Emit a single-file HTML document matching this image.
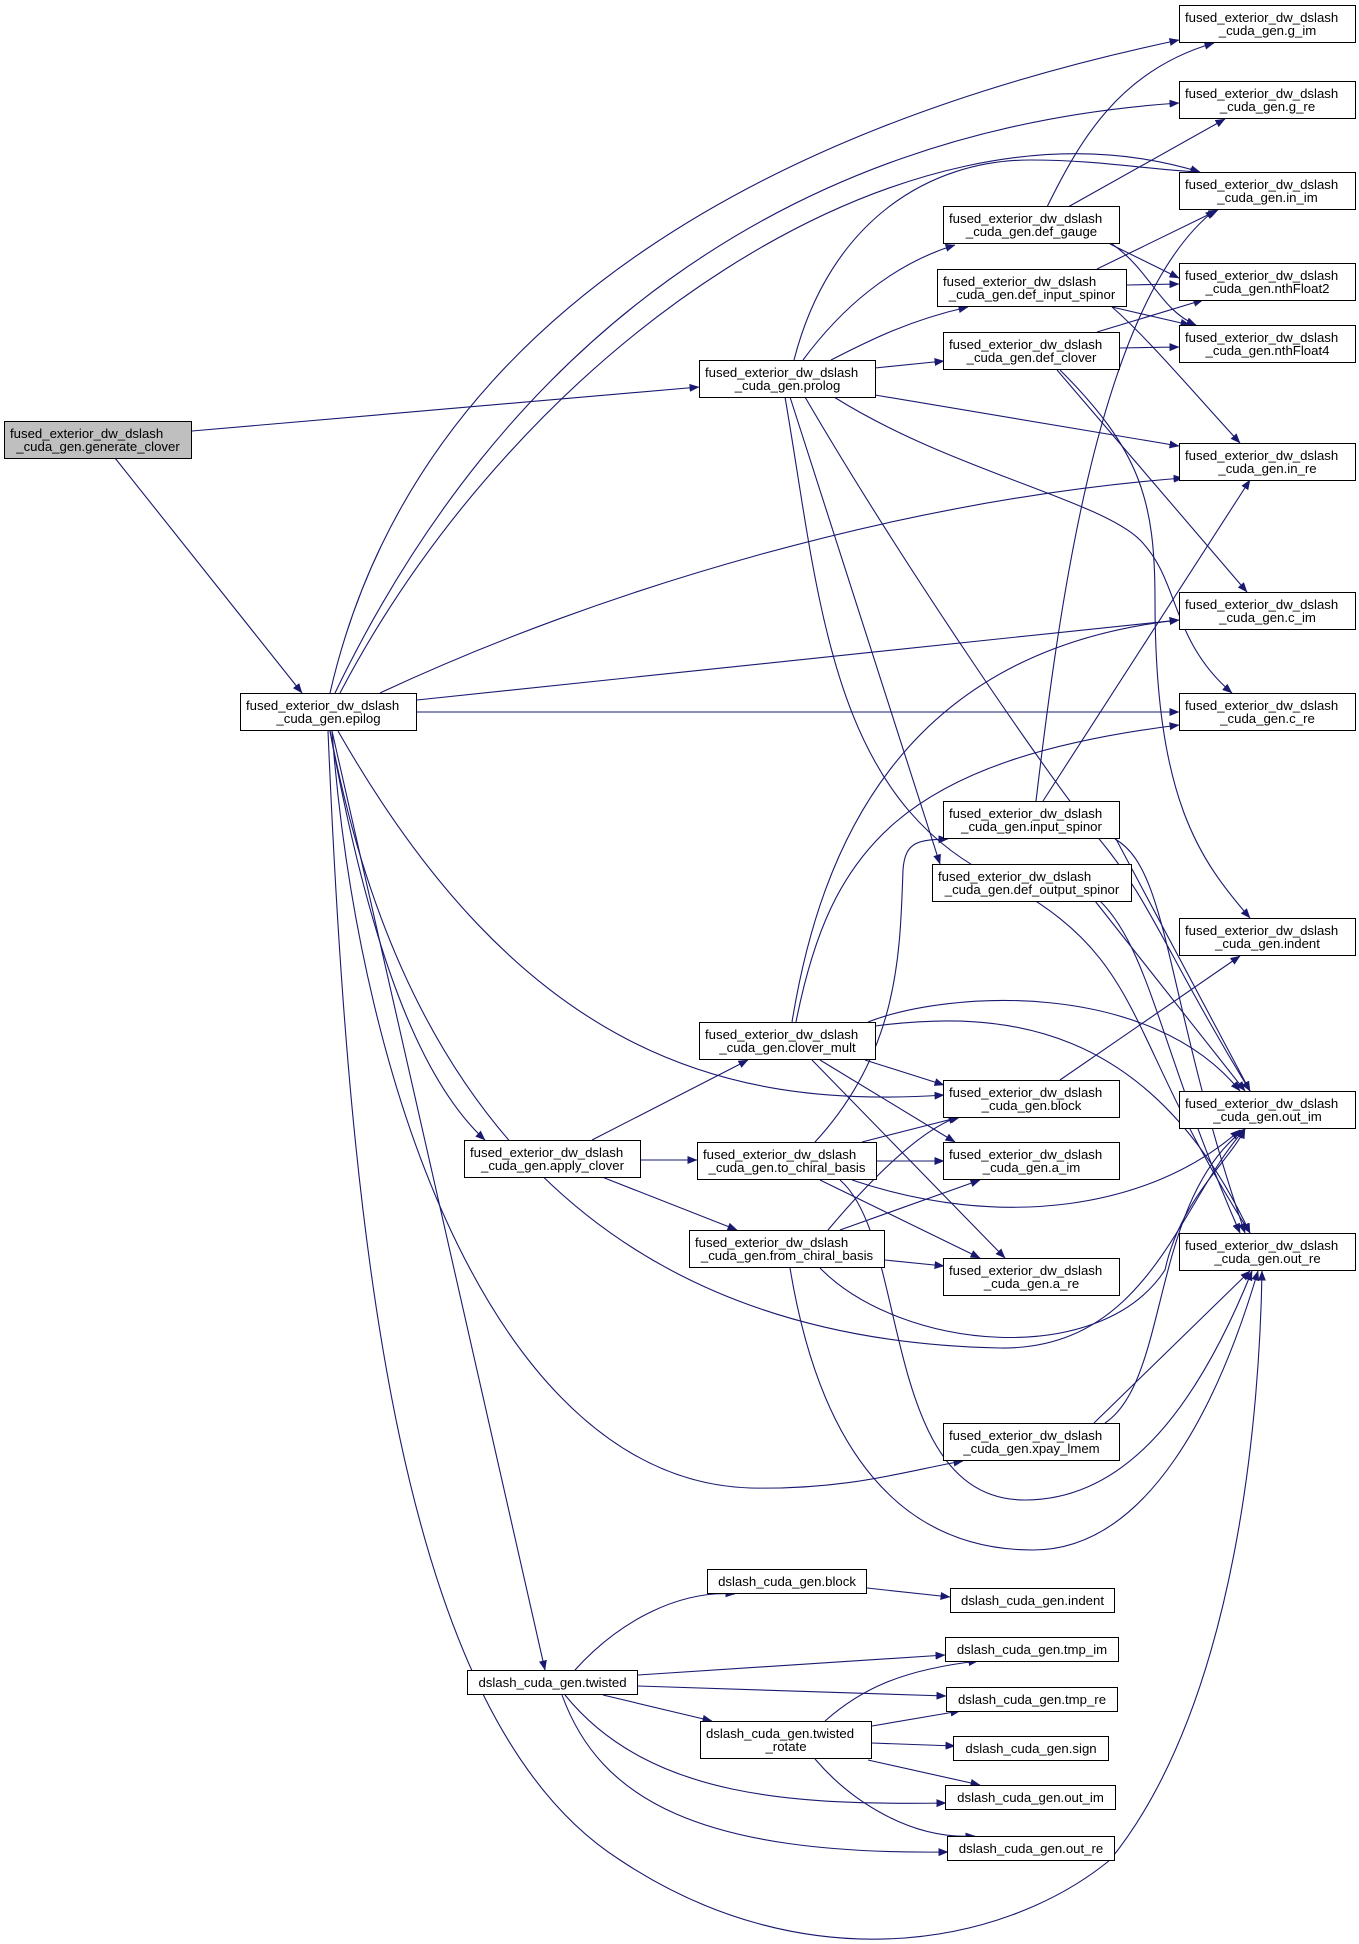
<!DOCTYPE html>
<html><head><meta charset="utf-8"><style>
body{margin:0;background:#fff;width:1359px;height:1944px;position:relative;overflow:hidden;font-family:"Liberation Sans",Helvetica,Arial,sans-serif;font-size:13.2px;}
.b{position:absolute;border:1px solid #000;background:#fff;box-sizing:border-box;line-height:13.4px;padding-top:5px;padding-left:5px;padding-right:5px;white-space:nowrap;}
.b .l1{text-align:left}.b .l2{text-align:center}
.s{padding-top:5px;text-align:center}
svg{position:absolute;left:0;top:0}
</style></head><body>
<svg width="1359" height="1944" viewBox="0 0 1359 1944">
<defs><marker id="a" markerWidth="10" markerHeight="8" refX="9.5" refY="4" orient="auto" markerUnits="userSpaceOnUse"><path d="M0,0 L10,4 L0,8 z" fill="#191970"/></marker></defs>
<g fill="none" stroke="#191970" stroke-width="1.1" marker-end="url(#a)">
<path d="M192,431 L699,387"/>
<path d="M115,458 L302,693"/>
<path d="M803,360 C840,310 890,265 955,245"/>
<path d="M831,360 C870,340 910,320 968,307"/>
<path d="M875,368 L944,361"/>
<path d="M794,360 C830,220 930,160 1030,160 C1100,160 1150,170 1200,172"/>
<path d="M875,395 L1179,446"/>
<path d="M834,397 C950,470 1100,500 1140,540 C1180,580 1170,640 1232,693"/>
<path d="M790,397 L940,864"/>
<path d="M785,397 C820,600 830,800 1000,880 C1150,960 1120,1030 1250,1233"/>
<path d="M805,397 C900,560 1050,780 1100,840 C1150,900 1170,960 1250,1091"/>
<path d="M330,693 C420,300 800,120 1179,40"/>
<path d="M335,693 C500,350 780,130 1179,103"/>
<path d="M340,693 C520,350 900,80 1200,172"/>
<path d="M380,693 C600,590 900,500 1183,478"/>
<path d="M417,700 L1179,620"/>
<path d="M417,712 L1179,712"/>
<path d="M338,731 C520,1050 720,1110 944,1095"/>
<path d="M330,731 C370,950 420,1080 485,1140"/>
<path d="M330,731 C400,1100 600,1340 1000,1348 C1150,1350 1180,1200 1245,1129"/>
<path d="M332,731 C360,1100 500,1480 750,1488 C850,1490 910,1470 963,1461"/>
<path d="M332,731 L545,1670"/>
<path d="M328,731 C350,1250 400,1720 620,1860 C800,1980 1000,1950 1110,1860 C1240,1700 1260,1400 1262,1271"/>
<path d="M1047,207 C1080,140 1120,70 1214,43"/>
<path d="M1068,207 L1225,119"/>
<path d="M1110,244 L1179,278"/>
<path d="M1112,244 C1150,270 1160,310 1196,325"/>
<path d="M1097,269 L1218,210"/>
<path d="M1127,285 L1179,284"/>
<path d="M1112,307 L1190,325"/>
<path d="M1112,307 C1150,340 1200,400 1240,443"/>
<path d="M1097,332 L1203,300"/>
<path d="M1120,348 L1179,347"/>
<path d="M1057,370 L1247,592"/>
<path d="M1060,370 C1140,450 1155,500 1155,600 C1155,800 1200,860 1250,918"/>
<path d="M1036,801 C1060,600 1100,300 1215,210"/>
<path d="M1043,801 L1250,480"/>
<path d="M1116,839 L1250,1091"/>
<path d="M1115,839 C1170,870 1165,1000 1245,1233"/>
<path d="M1095,901 L1245,1091"/>
<path d="M1100,901 C1150,950 1160,1050 1240,1233"/>
<path d="M792,1022 C820,850 900,650 1179,620"/>
<path d="M796,1022 C830,850 900,760 1179,725"/>
<path d="M868,1022 C950,990 1150,980 1240,1091"/>
<path d="M875,1026 C1000,1010 1150,1020 1250,1233"/>
<path d="M865,1060 L944,1085"/>
<path d="M820,1060 L955,1142"/>
<path d="M812,1060 L1005,1258"/>
<path d="M1060,1080 L1240,956"/>
<path d="M592,1140 L748,1060"/>
<path d="M641,1160 L697,1160"/>
<path d="M602,1177 L737,1230"/>
<path d="M815,1142 C900,1050 900,950 903,870 C905,840 920,840 948,839"/>
<path d="M862,1142 L960,1117"/>
<path d="M877,1161 L944,1161"/>
<path d="M820,1180 L980,1258"/>
<path d="M852,1180 C1000,1230 1150,1210 1240,1130"/>
<path d="M840,1180 C910,1240 880,1500 1025,1500 C1130,1500 1200,1400 1252,1271"/>
<path d="M828,1230 C870,1180 920,1130 958,1117"/>
<path d="M840,1230 L980,1180"/>
<path d="M885,1260 L944,1266"/>
<path d="M820,1268 C900,1350 1100,1370 1165,1270 C1180,1200 1230,1160 1245,1129"/>
<path d="M790,1268 C820,1450 900,1550 1033,1550 C1150,1550 1220,1400 1258,1271"/>
<path d="M1105,1423 C1170,1380 1150,1200 1245,1129"/>
<path d="M1094,1423 L1250,1271"/>
<path d="M575,1670 C620,1620 680,1590 735,1594"/>
<path d="M638,1675 L945,1655"/>
<path d="M638,1686 L946,1696"/>
<path d="M603,1695 L712,1721"/>
<path d="M565,1695 C650,1800 800,1805 946,1803"/>
<path d="M562,1695 C600,1800 700,1855 948,1852"/>
<path d="M867,1588 L950,1597"/>
<path d="M825,1721 C860,1690 900,1670 978,1661"/>
<path d="M872,1726 L960,1711"/>
<path d="M872,1743 L955,1746"/>
<path d="M868,1760 L980,1785"/>
<path d="M815,1759 C850,1800 910,1840 975,1836"/>
</g></svg>

<div class="b" style="left:4px;top:421px;width:188px;height:38px;background:#bfbfbf"><div class="l1">fused_exterior_dw_dslash</div><div class="l2">_cuda_gen.generate_clover</div></div>
<div class="b" style="left:699px;top:360px;width:177px;height:38px"><div class="l1">fused_exterior_dw_dslash</div><div class="l2">_cuda_gen.prolog</div></div>
<div class="b" style="left:240px;top:693px;width:177px;height:38px"><div class="l1">fused_exterior_dw_dslash</div><div class="l2">_cuda_gen.epilog</div></div>
<div class="b" style="left:943px;top:206px;width:177px;height:38px"><div class="l1">fused_exterior_dw_dslash</div><div class="l2">_cuda_gen.def_gauge</div></div>
<div class="b" style="left:937px;top:269px;width:190px;height:38px"><div class="l1">fused_exterior_dw_dslash</div><div class="l2">_cuda_gen.def_input_spinor</div></div>
<div class="b" style="left:943px;top:332px;width:177px;height:38px"><div class="l1">fused_exterior_dw_dslash</div><div class="l2">_cuda_gen.def_clover</div></div>
<div class="b" style="left:1179px;top:5px;width:177px;height:38px"><div class="l1">fused_exterior_dw_dslash</div><div class="l2">_cuda_gen.g_im</div></div>
<div class="b" style="left:1179px;top:81px;width:177px;height:38px"><div class="l1">fused_exterior_dw_dslash</div><div class="l2">_cuda_gen.g_re</div></div>
<div class="b" style="left:1179px;top:172px;width:177px;height:38px"><div class="l1">fused_exterior_dw_dslash</div><div class="l2">_cuda_gen.in_im</div></div>
<div class="b" style="left:1179px;top:263px;width:177px;height:38px"><div class="l1">fused_exterior_dw_dslash</div><div class="l2">_cuda_gen.nthFloat2</div></div>
<div class="b" style="left:1179px;top:325px;width:177px;height:38px"><div class="l1">fused_exterior_dw_dslash</div><div class="l2">_cuda_gen.nthFloat4</div></div>
<div class="b" style="left:1179px;top:443px;width:177px;height:38px"><div class="l1">fused_exterior_dw_dslash</div><div class="l2">_cuda_gen.in_re</div></div>
<div class="b" style="left:1179px;top:592px;width:177px;height:38px"><div class="l1">fused_exterior_dw_dslash</div><div class="l2">_cuda_gen.c_im</div></div>
<div class="b" style="left:1179px;top:693px;width:177px;height:38px"><div class="l1">fused_exterior_dw_dslash</div><div class="l2">_cuda_gen.c_re</div></div>
<div class="b" style="left:943px;top:801px;width:177px;height:38px"><div class="l1">fused_exterior_dw_dslash</div><div class="l2">_cuda_gen.input_spinor</div></div>
<div class="b" style="left:932px;top:864px;width:200px;height:38px"><div class="l1">fused_exterior_dw_dslash</div><div class="l2">_cuda_gen.def_output_spinor</div></div>
<div class="b" style="left:1179px;top:918px;width:177px;height:38px"><div class="l1">fused_exterior_dw_dslash</div><div class="l2">_cuda_gen.indent</div></div>
<div class="b" style="left:699px;top:1022px;width:177px;height:38px"><div class="l1">fused_exterior_dw_dslash</div><div class="l2">_cuda_gen.clover_mult</div></div>
<div class="b" style="left:943px;top:1080px;width:177px;height:38px"><div class="l1">fused_exterior_dw_dslash</div><div class="l2">_cuda_gen.block</div></div>
<div class="b" style="left:1179px;top:1091px;width:177px;height:38px"><div class="l1">fused_exterior_dw_dslash</div><div class="l2">_cuda_gen.out_im</div></div>
<div class="b" style="left:464px;top:1140px;width:177px;height:38px"><div class="l1">fused_exterior_dw_dslash</div><div class="l2">_cuda_gen.apply_clover</div></div>
<div class="b" style="left:697px;top:1142px;width:180px;height:38px"><div class="l1">fused_exterior_dw_dslash</div><div class="l2">_cuda_gen.to_chiral_basis</div></div>
<div class="b" style="left:943px;top:1142px;width:177px;height:38px"><div class="l1">fused_exterior_dw_dslash</div><div class="l2">_cuda_gen.a_im</div></div>
<div class="b" style="left:1179px;top:1233px;width:177px;height:38px"><div class="l1">fused_exterior_dw_dslash</div><div class="l2">_cuda_gen.out_re</div></div>
<div class="b" style="left:689px;top:1230px;width:196px;height:38px"><div class="l1">fused_exterior_dw_dslash</div><div class="l2">_cuda_gen.from_chiral_basis</div></div>
<div class="b" style="left:943px;top:1258px;width:177px;height:38px"><div class="l1">fused_exterior_dw_dslash</div><div class="l2">_cuda_gen.a_re</div></div>
<div class="b" style="left:943px;top:1423px;width:177px;height:38px"><div class="l1">fused_exterior_dw_dslash</div><div class="l2">_cuda_gen.xpay_lmem</div></div>
<div class="b s" style="left:707px;top:1569px;width:160px;height:25px">dslash_cuda_gen.block</div>
<div class="b s" style="left:950px;top:1588px;width:165px;height:25px">dslash_cuda_gen.indent</div>
<div class="b s" style="left:945px;top:1637px;width:174px;height:25px">dslash_cuda_gen.tmp_im</div>
<div class="b s" style="left:467px;top:1670px;width:171px;height:25px">dslash_cuda_gen.twisted</div>
<div class="b s" style="left:946px;top:1687px;width:172px;height:25px">dslash_cuda_gen.tmp_re</div>
<div class="b" style="left:700px;top:1721px;width:172px;height:38px"><div class="l1">dslash_cuda_gen.twisted</div><div class="l2">_rotate</div></div>
<div class="b s" style="left:953px;top:1736px;width:156px;height:25px">dslash_cuda_gen.sign</div>
<div class="b s" style="left:945px;top:1785px;width:171px;height:25px">dslash_cuda_gen.out_im</div>
<div class="b s" style="left:947px;top:1836px;width:168px;height:25px">dslash_cuda_gen.out_re</div>
</body></html>
